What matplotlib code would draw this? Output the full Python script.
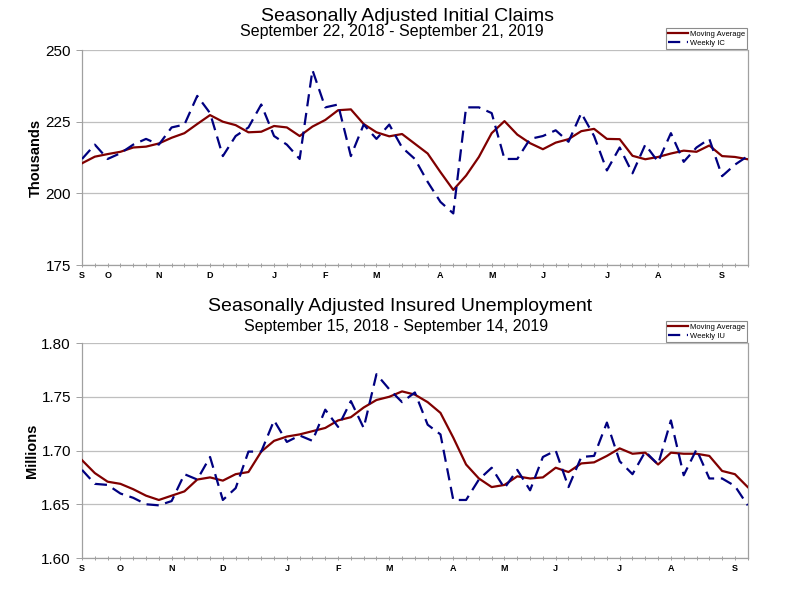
import numpy as np
import pandas as pd
import matplotlib
matplotlib.use("Agg")
import matplotlib.pyplot as plt

plt.rcParams['font.family'] = ['Liberation Sans', 'DejaVu Sans']

# initial claims, weeks ending Sep 22 2018 .. Sep 21 2019 (thousands)
ic_start = "2018-09-22"
ic_weekly = [212, 217, 212, 214, 217, 219, 217, 223, 224, 234, 228, 213, 220,
             223, 231, 220, 217, 212, 243, 230, 231, 213, 224, 219, 224, 216,
             212, 204, 197, 193, 230, 230, 228, 212, 212, 219, 220, 222, 218,
             228, 220, 208, 216, 207, 217, 211, 221, 211, 216, 219, 206, 210, 213]
ic_avg = [210.5, 212.8, 213.7, 214.5, 216.0, 216.3, 217.4, 219.4, 221.0, 224.2,
          227.3, 225.0, 223.8, 221.3, 221.5, 223.5, 223.0, 220.0, 223.3, 225.6,
          229.0, 229.3, 224.2, 221.3, 219.9, 220.7, 217.3, 213.9, 207.4, 201.2,
          206.2, 212.7, 221.0, 225.2, 220.5, 217.5, 215.4, 217.7, 218.9, 221.7,
          222.5, 219.0, 218.9, 213.1, 211.9, 212.7, 213.9, 214.9, 214.5, 216.7,
          213.0, 212.7, 211.9]

# insured unemployment, weeks ending Sep 15 2018 .. Sep 14 2019 (millions)
iu_start = "2018-09-15"
iu_weekly = [1.682, 1.669, 1.668, 1.660, 1.656, 1.650, 1.649, 1.653, 1.678, 1.673,
             1.694, 1.654, 1.665, 1.699, 1.699, 1.728, 1.708, 1.714, 1.709, 1.738,
             1.722, 1.746, 1.721, 1.771, 1.757, 1.745, 1.754, 1.724, 1.715, 1.654,
             1.654, 1.673, 1.684, 1.665, 1.682, 1.663, 1.694, 1.700, 1.666, 1.694,
             1.695, 1.726, 1.690, 1.678, 1.699, 1.687, 1.728, 1.677, 1.701, 1.674,
             1.674, 1.667, 1.649]
iu_avg = [1.691, 1.679, 1.671, 1.669, 1.664, 1.658, 1.654, 1.658, 1.662, 1.673,
          1.675, 1.672, 1.678, 1.680, 1.699, 1.709, 1.713, 1.715, 1.718, 1.721,
          1.728, 1.731, 1.740, 1.747, 1.750, 1.755, 1.752, 1.745, 1.735, 1.712,
          1.687, 1.674, 1.666, 1.668, 1.676, 1.674, 1.675, 1.684, 1.680, 1.688,
          1.689, 1.695, 1.702, 1.697, 1.698, 1.687, 1.698, 1.697, 1.697, 1.695,
          1.681, 1.678, 1.666]

RED = "#800000"
BLUE = "#000080"
GRID = "#bfbfbf"


def month_labels(start, n):
    dates = pd.date_range(start, periods=n, freq="7D")
    labels = []
    for i, d in enumerate(dates):
        if i == 0 or d.month != dates[i - 1].month:
            labels.append(d.strftime("%B")[0])
        else:
            labels.append("")
    return labels


def draw(ax, weekly, avg, start, yticks, fmt, ylabel, wk_name):
    x = np.arange(len(weekly))
    ax.plot(x, avg, color=RED, lw=1.6, label="Moving Average", zorder=3)
    ax.plot(x, weekly, color=BLUE, lw=1.6, ls=(0, (5.5, 3)), label=wk_name, zorder=3)
    ax.set_xlim(0, len(weekly) - 1)
    ax.set_ylim(yticks[0], yticks[-1])
    ax.set_yticks(yticks)
    ax.set_yticklabels([fmt % v for v in yticks], fontsize=11)
    ax.set_xticks(x)
    ax.set_xticklabels(month_labels(start, len(weekly)), fontsize=6.5, fontweight="bold")
    ax.tick_params(axis="x", length=3, width=0.6, color="#909090", pad=3, direction="inout")
    ax.tick_params(axis="y", length=4, width=0.6, color="#909090", pad=4)
    ax.grid(axis="y", color=GRID, lw=0.9)
    for s in ax.spines.values():
        s.set_color("#a0a0a0")
        s.set_linewidth(0.9)
    ax.spines["top"].set_visible(False)
    ax.set_ylabel(ylabel, fontsize=10.5, fontweight="bold", labelpad=2)
    leg = ax.legend(loc="lower right", bbox_to_anchor=(1.0, 1.0), fontsize=5.5,
                    frameon=True, fancybox=False, borderpad=0.3, labelspacing=0.2,
                    handlelength=2.6, handletextpad=0.2, borderaxespad=0.1)
    leg.get_frame().set_edgecolor("#707070")
    leg.get_frame().set_linewidth(0.8)


fig = plt.figure(figsize=(7.85, 5.9), dpi=100)
ax1 = fig.add_axes([0.1045, 0.5508, 0.848, 0.3644])
ax2 = fig.add_axes([0.1045, 0.0542, 0.848, 0.3644])

draw(ax1, ic_weekly, ic_avg, ic_start, [175, 200, 225, 250], "%d", "Thousands", "Weekly IC")
draw(ax2, iu_weekly, iu_avg, iu_start, [1.60, 1.65, 1.70, 1.75, 1.80], "%.2f", "Millions", "Weekly IU")

fig.text(0.519, 0.972, "Seasonally Adjusted Initial Claims", ha="center", va="center", fontsize=14)
fig.text(0.499, 0.947, "September 22, 2018 - September 21, 2019", ha="center", va="center", fontsize=11.5)
fig.text(0.510, 0.480, "Seasonally Adjusted Insured Unemployment", ha="center", va="center", fontsize=14)
fig.text(0.505, 0.447, "September 15, 2018 - September 14, 2019", ha="center", va="center", fontsize=11.5)

fig.savefig("out.png", dpi=100)
